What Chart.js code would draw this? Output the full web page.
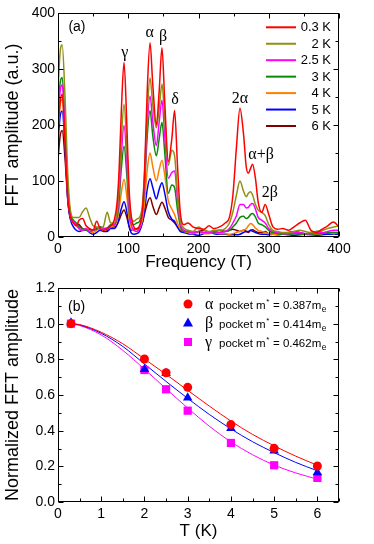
<!DOCTYPE html>
<html><head><meta charset="utf-8">
<script src="https://cdn.jsdelivr.net/npm/chart.js@4"></script>
<style>
html,body{margin:0;padding:0;background:#fff;overflow:hidden;}
#ca{position:absolute;left:0;top:0;}
#cb{position:absolute;left:0;top:275px;}
</style>
</head><body>
<canvas id="ca" width="374" height="275" style="width:374px;height:275px"></canvas>
<canvas id="cb" width="374" height="269" style="width:374px;height:269px"></canvas>
<script>
// ---------- Panel (a) data: FFT spectra ----------
const freq = [0,3,6,10,14,18,22,26,30,35,40,45,50,55,60,65,70,75,
  80,84,87,90,94,98,101,104,108,112,116,120,123,127,131,135,140,144,148,152,157,162,166,170,174,179,
  185,192,200,208,215,222,230,238,244,249,
  254,259,264,268,271,274,277,281,285,290,295,300,306,
  313,320,328,336,344,352,360,368,376,384,392,400];
const amp03K = [190,240,255,170,70,35,25,20,30,33,20,15,12,28,15,12,15,20,
  30,60,120,220,312,200,90,40,18,14,20,45,110,260,347,270,200,260,338,240,135,175,226,130,45,22,
  25,18,15,14,20,15,18,25,35,75,
  160,230,185,125,114,122,130,105,62,44,58,40,18,
  14,15,12,18,25,30,12,8,14,20,27,18];
const amp2K = [260,330,343,250,110,45,35,35,35,45,52,35,20,18,15,20,44,25,
  25,45,95,170,237,160,75,35,28,32,35,55,110,220,284,235,195,230,273,210,128,155,145,80,30,16,
  12,10,18,12,10,12,12,15,25,45,
  75,100,82,72,78,81,75,58,48,44,38,22,12,
  10,8,8,10,12,10,8,10,12,15,18,20];
const amp25K = [210,260,272,190,80,35,28,22,15,12,15,10,12,18,14,15,14,20,
  22,40,80,145,199,135,60,25,12,10,15,45,95,200,252,205,163,205,244,180,105,115,118,70,25,12,
  10,8,10,8,8,10,8,10,15,25,
  38,58,58,52,53,58,60,50,35,30,25,15,10,
  8,6,6,8,8,6,6,8,8,10,12,12];
const amp3K = [220,275,285,200,85,40,30,25,18,15,12,10,12,14,18,15,16,22,
  22,35,65,120,162,110,50,25,22,25,28,45,85,180,226,180,145,175,205,150,78,93,88,50,20,10,
  10,8,10,8,8,8,8,10,12,18,
  25,35,37,33,35,40,42,36,25,22,18,12,8,
  6,5,5,6,6,5,5,6,6,8,8,8];
const amp4K = [190,235,246,175,75,35,25,20,15,12,15,10,8,12,15,12,14,18,
  20,28,50,78,103,72,35,18,12,10,15,30,60,120,150,125,100,120,137,110,65,50,40,25,14,10,
  8,6,8,6,6,8,6,6,5,6,
  8,10,12,15,20,24,22,16,12,10,8,6,5,
  5,6,5,8,6,5,4,5,6,8,6,8];
const amp5K = [170,215,225,160,65,30,18,12,10,12,14,8,5,8,12,10,10,15,
  15,22,35,50,63,45,20,8,5,6,10,25,45,85,104,88,68,85,97,78,45,32,28,18,10,8,
  6,5,3,6,8,6,5,5,4,4,
  4,5,8,10,10,12,10,8,6,5,5,4,5,
  4,5,4,3,4,5,4,3,4,5,5,5];
const amp6K = [138,180,190,140,65,32,28,24,22,15,12,14,12,15,18,15,12,18,
  18,22,30,40,48,35,20,12,14,15,18,25,40,60,70,55,40,52,62,52,35,30,25,18,12,10,
  10,8,10,12,8,10,12,10,12,14,
  12,10,12,10,8,12,13,10,8,8,10,6,8,
  8,6,8,10,8,6,8,10,8,6,8,5];
const tempLabels = ['0.3 K','2 K','2.5 K','3 K','4 K','5 K','6 K'];
const freqTicks = [0,100,200,300,400];
const ampTicks = [0,100,200,300,400];

// ---------- Panel (b) data: normalized amplitude ----------
const tempPts = [0.3,2,2.5,3,4,5,6];
const normAlpha = [1.0,0.802,0.725,0.643,0.434,0.301,0.202];
const normBeta  = [1.005,0.744,0.722,0.585,0.413,0.288,0.165];
const normGamma = [1.0,0.740,0.632,0.512,0.331,0.206,0.135];
const tempFit = [0.3,0.5,1,1.5,2,2.5,3,3.5,4,4.5,5,5.5,6];
const fitAlpha = [1.0,0.995,0.952,0.887,0.802,0.716,0.626,0.538,0.454,0.379,0.315,0.257,0.206];
const fitBeta  = [1.0,0.993,0.946,0.872,0.774,0.676,0.581,0.491,0.410,0.338,0.277,0.222,0.175];
const fitGamma = [1.0,0.990,0.937,0.850,0.745,0.635,0.527,0.425,0.337,0.265,0.207,0.163,0.128];
const pocketNames = ['\u03b1','\u03b2','\u03b3'];
const pocketMass = ['0.387','0.414','0.462'];

const FONT = "'Liberation Sans', Arial, Helvetica, sans-serif";
const SERIF = "'Liberation Serif', 'Times New Roman', serif";
Chart.defaults.font.family = FONT;
Chart.defaults.color = '#000';

const colorsA = ['#ff0000','#8f8f14','#ff00ff','#0a8a0a','#ff8000','#0000ff','#800000'];
const colorsB = ['#ff0000','#0000ff','#ff00ff'];

// frame + inward ticks on all four sides
const framePlugin = {
  id: 'frame',
  afterDatasetsDraw(chart, args, o) {
    const {ctx, chartArea: a, scales: {x, y}} = chart;
    ctx.save();
    ctx.strokeStyle = '#000';
    ctx.lineWidth = 1;
    const L = Math.round(a.left) + 0.5, R = Math.round(a.right) - 0.5;
    const T = Math.round(a.top) + 0.5, B = Math.round(a.bottom) - 0.5;
    ctx.strokeRect(L, T, R - L, B - T);
    ctx.beginPath();
    const n = Math.round((o.xMax - o.xMin) / o.xMinor);
    for (let i = 0; i <= n; i++) {
      const v = o.xMin + i * o.xMinor;
      const major = Math.abs(v / o.xMajor - Math.round(v / o.xMajor)) < 1e-6;
      const len = major ? 5 : 3;
      const p = Math.round(x.getPixelForValue(v)) + 0.5;
      ctx.moveTo(p, B); ctx.lineTo(p, B - len);
      ctx.moveTo(p, T); ctx.lineTo(p, T + len);
    }
    const m = Math.round((o.yMax - o.yMin) / o.yMinor);
    for (let i = 0; i <= m; i++) {
      const v = o.yMin + i * o.yMinor;
      const major = Math.abs(v / o.yMajor - Math.round(v / o.yMajor)) < 1e-6;
      const len = major ? 5 : 3;
      const p = Math.round(y.getPixelForValue(v)) + 0.5;
      ctx.moveTo(L, p); ctx.lineTo(L + len, p);
      ctx.moveTo(R, p); ctx.lineTo(R - len, p);
    }
    ctx.stroke();
    ctx.restore();
  }
};

// text labels placed in data coordinates
const labelPlugin = {
  id: 'labels',
  afterDraw(chart, args, o) {
    const {ctx, scales: {x, y}} = chart;
    ctx.save();
    ctx.fillStyle = '#000';
    ctx.textAlign = 'center';
    ctx.textBaseline = 'middle';
    for (const it of o.items) {
      ctx.font = it.font;
      ctx.fillText(it.text, x.getPixelForValue(it.x), y.getPixelForValue(it.y));
    }
    ctx.restore();
  }
};

// legend of panel (a): line sample + right aligned label
const legendAPlugin = {
  id: 'legendA',
  afterDraw(chart) {
    const {ctx, chartArea: a} = chart;
    ctx.save();
    ctx.font = '13px ' + FONT;
    ctx.textAlign = 'right';
    ctx.textBaseline = 'middle';
    chart.data.datasets.forEach((ds, i) => {
      const yy = a.top + 14.3 + i * 16.45;
      ctx.strokeStyle = ds.borderColor;
      ctx.lineWidth = 2;
      ctx.beginPath();
      ctx.moveTo(a.right - 73, yy);
      ctx.lineTo(a.right - 43, yy);
      ctx.stroke();
      ctx.fillStyle = '#000';
      ctx.fillText(ds.label, a.right - 8, yy + 0.5);
    });
    ctx.restore();
  }
};

// legend of panel (b)
const legendBPlugin = {
  id: 'legendB',
  afterDraw(chart) {
    const {ctx, chartArea: a} = chart;
    ctx.save();
    ctx.textBaseline = 'alphabetic';
    ctx.textAlign = 'left';
    for (let i = 0; i < 3; i++) {
      const yy = a.top + 16 + i * 19;
      const mx = a.left + 130;
      ctx.fillStyle = colorsB[i];
      ctx.beginPath();
      if (i === 0) { ctx.arc(mx, yy, 4.5, 0, Math.PI * 2); }
      else if (i === 1) { ctx.moveTo(mx, yy - 5.5); ctx.lineTo(mx + 5, yy + 3.5); ctx.lineTo(mx - 5, yy + 3.5); ctx.closePath(); }
      else { ctx.rect(mx - 4, yy - 4, 8, 8); }
      ctx.fill();
      ctx.fillStyle = '#000';
      let tx = mx + 17;
      const base = yy + 4.5;
      ctx.font = '16px ' + SERIF;
      ctx.fillText(pocketNames[i], tx, base);
      tx = mx + 31;
      ctx.font = '11.5px ' + FONT;
      let s = 'pocket m';
      ctx.fillText(s, tx, base); tx += ctx.measureText(s).width;
      ctx.font = '8px ' + FONT;
      ctx.fillText('*', tx + 0.5, base - 5); tx += ctx.measureText('*').width + 1;
      ctx.font = '11.5px ' + FONT;
      s = ' = ' + pocketMass[i] + 'm';
      ctx.fillText(s, tx, base); tx += ctx.measureText(s).width;
      ctx.font = '8.5px ' + FONT;
      ctx.fillText('e', tx + 0.5, base + 3);
    }
    ctx.restore();
  }
};

const greekFont = '16px ' + SERIF;

new Chart(document.getElementById('ca'), {
  type: 'line',
  data: {
    datasets: [amp03K, amp2K, amp25K, amp3K, amp4K, amp5K, amp6K].map((s, i) => ({
      label: tempLabels[i],
      data: freq.map((f, j) => ({x: f, y: s[j]})),
      borderColor: colorsA[i],
      borderWidth: 1.5,
      pointRadius: 0,
      cubicInterpolationMode: 'monotone',
      fill: false
    }))
  },
  options: {
    responsive: false, animation: false, devicePixelRatio: 1,
    layout: {padding: {left: 0, top: 13, right: 35, bottom: 0}},
    events: [],
    plugins: {
      legend: {display: false}, tooltip: {enabled: false},
      frame: {xMin: 0, xMax: 400, xMinor: 50, xMajor: 100, yMin: 0, yMax: 400, yMinor: 50, yMajor: 100},
      labels: {items: [
        {text: '(a)', x: 27, y: 375, font: '14px ' + FONT},
        {text: '\u03b3', x: 95, y: 329, font: greekFont},
        {text: '\u03b1', x: 130.6, y: 365, font: greekFont},
        {text: '\u03b2', x: 149.6, y: 358, font: greekFont},
        {text: '\u03b4', x: 166.7, y: 245, font: greekFont},
        {text: '2\u03b1', x: 259, y: 247, font: greekFont},
        {text: '\u03b1+\u03b2', x: 289, y: 147, font: greekFont},
        {text: '2\u03b2', x: 301.5, y: 79, font: greekFont}
      ]}
    },
    scales: {
      x: {
        type: 'linear', min: 0, max: 400,
        afterBuildTicks(s) { s.ticks = freqTicks.map(v => ({value: v})); },
        grid: {display: false, drawTicks: false}, border: {display: false},
        ticks: {padding: 4, font: {size: 14}, maxRotation: 0},
        title: {display: true, text: 'Frequency (T)', font: {size: 17}, padding: {top: 0, bottom: 2}},
        afterFit(s) { s.height = 38; }
      },
      y: {
        type: 'linear', min: 0, max: 400,
        afterBuildTicks(s) { s.ticks = ampTicks.map(v => ({value: v})); },
        grid: {display: false, drawTicks: false}, border: {display: false},
        ticks: {padding: 3, font: {size: 14}},
        title: {display: true, text: 'FFT amplitude (a.u.)', font: {size: 18}, padding: {top: 2, bottom: 0}},
        afterFit(s) { s.width = 58; }
      }
    }
  },
  plugins: [framePlugin, labelPlugin, legendAPlugin]
});

const ptStyles = ['circle', 'triangle', 'rect'];
const ptRadius = [4.5, 5.5, 5.8];
const normSets = [normAlpha, normBeta, normGamma];
const fitSets = [fitAlpha, fitBeta, fitGamma];

new Chart(document.getElementById('cb'), {
  type: 'line',
  data: {
    datasets: [
      ...normSets.map((s, i) => ({
        label: pocketNames[i] + ' pocket',
        data: tempPts.map((t, j) => ({x: t, y: s[j]})),
        showLine: false,
        pointStyle: ptStyles[i], pointRadius: ptRadius[i],
        pointBackgroundColor: colorsB[i], pointBorderColor: colorsB[i], pointBorderWidth: 0
      })),
      ...fitSets.map((s, i) => ({
        label: pocketNames[i] + ' fit',
        data: tempFit.map((t, j) => ({x: t, y: s[j]})),
        borderColor: colorsB[i], borderWidth: 1, pointRadius: 0,
        cubicInterpolationMode: 'monotone', fill: false
      }))
    ]
  },
  options: {
    responsive: false, animation: false, devicePixelRatio: 1,
    layout: {padding: {left: 0, top: 13, right: 35, bottom: 0}},
    events: [],
    plugins: {
      legend: {display: false}, tooltip: {enabled: false},
      frame: {xMin: 0, xMax: 6.5, xMinor: 0.5, xMajor: 1, yMin: 0, yMax: 1.2, yMinor: 0.1, yMajor: 0.2},
      labels: {items: [{text: '(b)', x: 0.43, y: 1.095, font: '14px ' + FONT}]}
    },
    scales: {
      x: {
        type: 'linear', min: 0, max: 6.5,
        afterBuildTicks(s) { s.ticks = [0,1,2,3,4,5,6].map(v => ({value: v})); },
        grid: {display: false, drawTicks: false}, border: {display: false},
        ticks: {padding: 4, font: {size: 14}, maxRotation: 0},
        title: {display: true, text: 'T (K)', font: {size: 17}, padding: {top: 0, bottom: 2}},
        afterFit(s) { s.height = 42; }
      },
      y: {
        type: 'linear', min: 0, max: 1.2,
        afterBuildTicks(s) { s.ticks = [0,0.2,0.4,0.6,0.8,1.0,1.2].map(v => ({value: v})); },
        grid: {display: false, drawTicks: false}, border: {display: false},
        ticks: {padding: 3, font: {size: 14}, callback: v => Number(v).toFixed(1)},
        title: {display: true, text: 'Normalized FFT amplitude', font: {size: 18}, padding: {top: 2, bottom: 0}},
        afterFit(s) { s.width = 58; }
      }
    }
  },
  plugins: [framePlugin, labelPlugin, legendBPlugin]
});
</script>
</body></html>
